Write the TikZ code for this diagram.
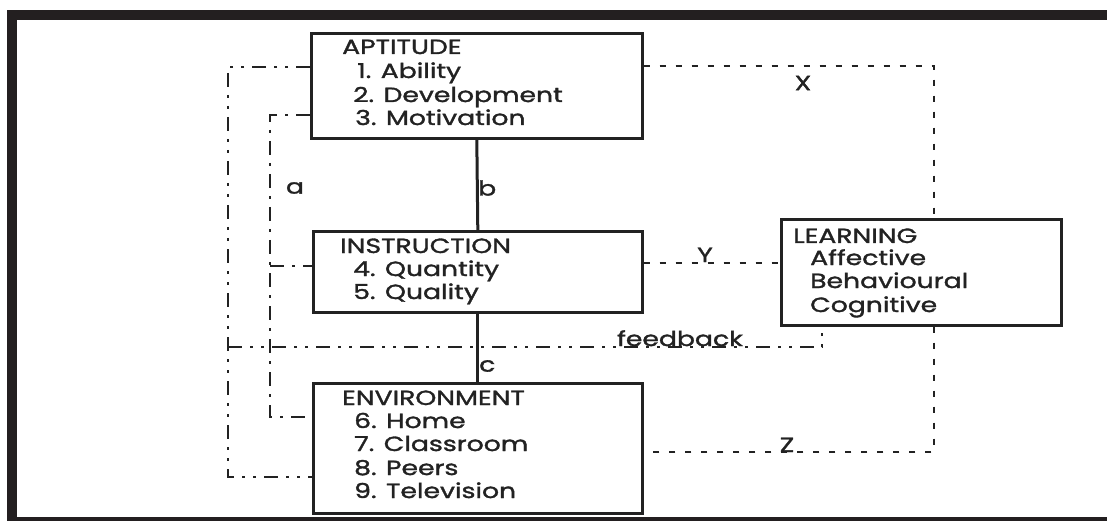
\documentclass[tikz,border=0pt]{standalone}
\usepackage{fontspec}
\setmainfont{Poppins}
\newfontfamily\boxfont[FakeStretch=1.3,FakeBold=1.6]{Poppins}
\definecolor{ink}{HTML}{222222}
\definecolor{band}{HTML}{231F20}
\begin{document}
\begin{tikzpicture}[x=1pt,y=-1pt,
  txt/.style={anchor=base west,inner sep=0pt,text=ink,font=\boxfont\fontsize{20.5}{23}\selectfont},
  lbl/.style={inner sep=0pt,text=ink,font=\boxfont\fontsize{20.5}{23}\selectfont},
  boxn/.style={draw=ink,line width=2.6pt,minimum width=#1,inner sep=0pt,anchor=north west},
  solidc/.style={draw=ink,line width=3pt},
  dashdotdot/.style={draw=ink,line width=2pt,dash pattern=on 14pt off 8pt on 3pt off 8pt on 3pt off 8pt},
  dashdot/.style={draw=ink,line width=2pt,dash pattern=on 14pt off 8pt on 3pt off 8pt},
  dots/.style={draw=ink,line width=2.2pt,dash pattern=on 6pt off 10pt}]
\useasboundingbox (0,0) rectangle (1107,521);
% frame
\fill[band] (7,10) rectangle (1107,20);
\fill[band] (7,10) rectangle (17,521);
\fill[band] (7,517) rectangle (1107,521);
% boxes
\node[boxn=331pt,minimum height=105pt] (apt) at (310,32) {};
\node[boxn=329pt,minimum height=81pt] (ins) at (312,230) {};
\node[boxn=329pt,minimum height=130pt] (env) at (312,382) {};
\node[boxn=280pt,minimum height=106pt] (lrn) at (780,218) {};
% texts
\node[txt] (aptH) at (342,54) {APTITUDE};
\node[txt] (apt1) at (357,78) {1. Ability};
\node[txt] (apt2) at (353,102) {2. Development};
\node[txt] (apt3) at (355,125) {3. Motivation};
\node[txt] (insH) at (340,253) {INSTRUCTION};
\node[txt] (ins1) at (353,276) {4. Quantity};
\node[txt] (ins2) at (353,299) {5. Quality};
\node[txt] (envH) at (342,405) {ENVIRONMENT};
\node[txt] (env1) at (354,428) {6. Home};
\node[txt] (env2) at (354,451) {7. Classroom};
\node[txt] (env3) at (354,475) {8. Peers};
\node[txt] (env4) at (354,498) {9. Television};
\node[txt] (lrnH) at (793,243) {LEARNING};
\node[txt] (lrn1) at (810,265) {Affective};
\node[txt] (lrn2) at (810,288) {Behavioural};
\node[txt] (lrn3) at (810,312) {Cognitive};
% solid connectors
\draw[solidc] (apt.south) -- (ins.north);
\draw[solidc] (ins.south) -- (env.north);
% corner coordinates
\coordinate (oa) at (228,67);
\coordinate (ob) at (228,477);
\coordinate (ia) at (270,115);
\coordinate (ib) at (270,417);
\coordinate (ic) at (270,266);
\coordinate (fa) at (228,347);
\coordinate (fb) at (822,347);
\coordinate (xa) at (934,66);
\coordinate (za) at (934,452);
\coordinate (ya) at (700,263);
% dashed connectors
\draw[dashdotdot] (apt.west |- oa) -- (oa) -- (ob) -- (env.west |- ob);
\draw[dashdot] (apt.west |- ia) -- (ia) -- (ib) -- (env.west |- ib);
\draw[dashdot] (ic) -- (ins.west |- ic);
\draw[dashdotdot] (fa) -- (fb) -- (lrn.south -| fb);
\draw[dots] (apt.east |- xa) -- (xa) -- (lrn.north -| xa);
\draw[dots] (lrn.south -| za) -- (za) -- (env.east |- za);
\draw[dots] (ins.east |- ya) -- (lrn.west |- ya);
% labels
\node[lbl] (la) at (295,188) {a};
\node[lbl,anchor=west] (lb) at (478,188) {b};
\node[lbl,anchor=west] (lc) at (479,366) {c};
\node[lbl] (lx) at (803,83) {X};
\node[lbl,anchor=base] (ly) at (705,262) {Y};
\node[lbl,anchor=base] (lz) at (787,452) {Z};
\node[lbl,anchor=base,fill=white,inner xsep=2pt] (lf) at (680,346) {feedback};
\end{tikzpicture}
\end{document}
